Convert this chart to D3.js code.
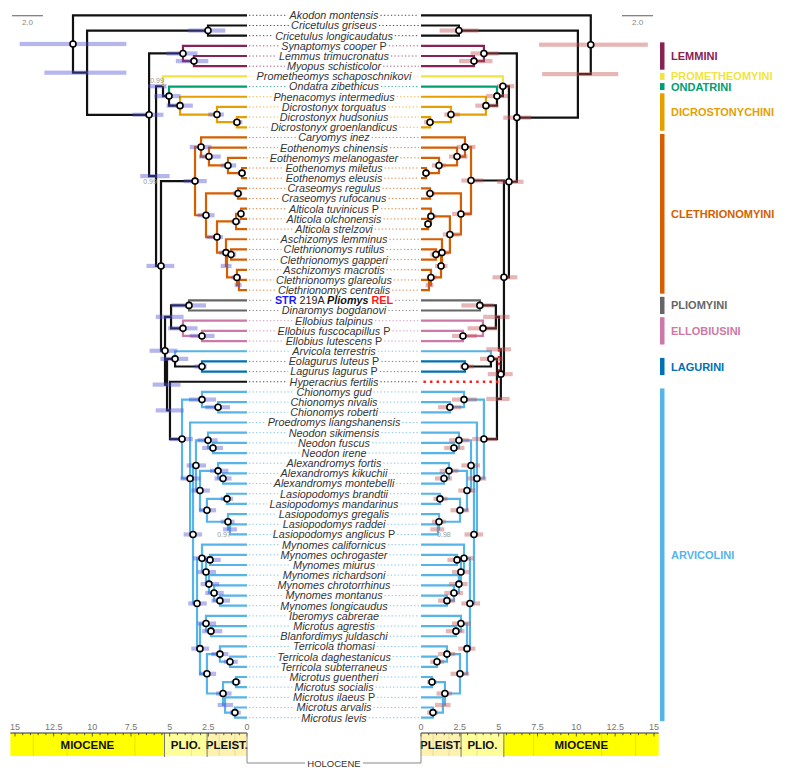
<!DOCTYPE html>
<html><head><meta charset="utf-8">
<script src="https://cdn.jsdelivr.net/npm/d3@7"></script>
<style>body{margin:0;background:#fff}svg{display:block}</style></head>
<body><svg id="c" width="800" height="776"></svg>
<script>
// ---------------- DATA ----------------
const taxa = ["Akodon montensis","Cricetulus griseus","Cricetulus longicaudatus","Synaptomys cooper P","Lemmus trimucronatus","Myopus schisticolor","Prometheomys schaposchnikovi","Ondatra zibethicus","Phenacomys intermedius","Dicrostonyx torquatus","Dicrostonyx hudsonius","Dicrostonyx groenlandicus","Caryomys inez","Eothenomys chinensis","Eothenomys melanogaster","Eothenomys miletus","Eothenomys eleusis","Craseomys regulus","Craseomys rufocanus","Alticola tuvinicus P","Alticola olchonensis","Alticola strelzovi","Aschizomys lemminus","Clethrionomys rutilus","Clethrionomys gapperi","Aschizomys macrotis","Clethrionomys glareolus","Clethrionomys centralis","STR 219A Pliomys REL","Dinaromys bogdanovi","Ellobius talpinus","Ellobius fuscocapillus P","Ellobius lutescens P","Arvicola terrestris","Eolagurus luteus P","Lagurus lagurus P","Hyperacrius fertilis","Chionomys gud","Chionomys nivalis","Chionomys roberti","Proedromys liangshanensis","Neodon sikimensis","Neodon fuscus","Neodon irene","Alexandromys fortis","Alexandromys kikuchii","Alexandromys montebelli","Lasiopodomys brandtii","Lasiopodomys mandarinus","Lasiopodomys gregalis","Lasiopodomys raddei","Lasiopodomys anglicus P","Mynomes californicus","Mynomes ochrogaster","Mynomes miurus","Mynomes richardsoni","Mynomes chrotorrhinus","Mynomes montanus","Mynomes longicaudus","Iberomys cabrerae","Microtus agrestis","Blanfordimys juldaschi","Terricola thomasi","Terricola daghestanicus","Terricola subterraneus","Microtus guentheri","Microtus socialis","Microtus ilaeus P","Microtus arvalis","Microtus levis"];

const tipGroup = ["out","out","out","lem","lem","lem","pro","ond","dic","dic","dic","dic",
 "cle","cle","cle","cle","cle","cle","cle","cle","cle","cle","cle","cle","cle","cle","cle","cle",
 "pli","pli","ell","ell","ell","arv","lag","lag","out",
 "arv","arv","arv","arv","arv","arv","arv","arv","arv","arv","arv","arv","arv","arv","arv","arv","arv",
 "arv","arv","arv","arv","arv","arv","arv","arv","arv","arv","arv","arv","arv","arv","arv","arv"];

// tribe bars: [label, group, first taxon, last taxon]
const tribeBars = [["LEMMINI","lem",3,5],["PROMETHEOMYINI","pro",6,6],["ONDATRINI","ond",7,7],
 ["DICROSTONYCHINI","dic",8,11],["CLETHRIONOMYINI","cle",12,27],["PLIOMYINI","pli",28,29],
 ["ELLOBIUSINI","ell",30,32],["LAGURINI","lag",34,35],["ARVICOLINI","arv",37,69]];

// node rows: [id, upper child, lower child, age (Ma), HPD low, HPD high, posterior (1 = circle, 0 = none)]
const leftTree = [
["root",0,"N1",11.25,7.8,14.7,1],["N1","Cric","A",10.34,7.8,13.1,0],["Cric",1,2,2.52,1.4,3.8,1],
["A","Lem","B",6.33,5.4,7.4,1],["Lem",3,"Lem2",4.14,3.2,5.2,1],["Lem2",4,5,3.43,2.5,4.6,1],
["B","G","C",5.88,5.0,6.9,0.99],["G",6,"O",5.43,5.2,6.4,0.99],["O",7,"Dic",5.04,4.3,6.0,1],
["Dic",8,"Dx",4.33,3.5,5.2,1],["Dx",9,"Dh",1.94,1.5,2.5,1],["Dh",10,11,0.65,0.3,0.9,1],
["C","CL","Dd",5.56,4.7,6.5,1],["CL","E1","CL2",3.36,2.6,4.1,1],["E1",12,"E2",2.97,2.3,3.7,1],
["E2",13,"E3",2.46,1.7,3.1,1],["E3",14,"E4",1.23,0.7,1.7,1],["E4",15,16,0.32,0.1,0.6,1],
["CL2","Cras","CL3",2.65,2.1,3.2,1],["Cras",17,18,0.58,0.3,0.9,1],["CL3","Alt","CL4",1.94,1.55,2.6,1],
["Alt","Alt2",21,0.71,0.4,1.0,1],["Alt2",19,20,0.39,0.2,0.6,1],["CL4",22,"R1p",1.36,1.0,1.8,1],
["R1p","R1","M1",1.29,1.0,1.7,0],["R1",23,24,1.03,0.7,1.4,1],["M1",25,"M2",0.65,0.4,1.0,1],
["M2",26,27,0.52,0.35,0.8,0],
["Dd","PE","K",5.30,4.5,6.3,1],["PE","P1","El1",4.91,4.1,5.9,0],["P1",28,29,3.75,2.65,4.9,1],
["El1",30,"El2",4.14,3.2,5.1,1],["El2",31,32,2.91,2.1,3.7,1],["K","AL","H",5.17,4.3,6.1,0],
["AL",33,"Lg",4.65,3.8,5.6,1],["Lg",34,35,2.91,2.6,3.4,1],["H",36,"AR",4.98,4.1,5.9,0],
["AR","Chio1","Z",4.20,3.5,5.0,1],["Chio1",37,"Chio2",2.91,2.0,3.75,1],["Chio2",38,39,1.87,1.1,2.7,1],
["Z",40,"W",3.68,3.0,4.3,1],["W","NA","V",3.49,2.9,4.1,1],["NA","Neo1","AL1",3.30,2.65,3.9,1],
["Neo1",41,"Neo2",2.52,1.9,3.2,1],["Neo2",42,43,2.20,1.55,2.9,1],["AL1","Alx1","Las1",3.04,2.4,3.6,1],
["Alx1",44,"Alx2",1.87,1.2,2.4,1],["Alx2",45,46,1.55,1.0,2.1,1],["Las1","Las_a","Las_b",2.59,2.0,3.1,1],
["Las_a",47,48,1.29,0.9,1.7,1],["Las_b",49,"Las_c",1.23,0.8,1.7,1],["Las_c",50,51,1.10,0.65,1.55,0.97],
["V","My1","U",3.23,2.6,3.8,1],["My1",52,"My2",2.91,2.2,3.5,1],["My2","My_om","My3",2.65,2.0,3.2,1],
["My_om",53,54,2.39,1.7,3.0,1],["My3",55,"My4",2.46,1.8,3.0,1],["My4",56,"My5",2.13,1.5,2.7,1],
["My5",57,58,1.75,1.1,2.3,1],["U","Ib","T0",3.04,2.45,3.6,1],["Ib",59,"Ib2",2.65,2.0,3.2,1],
["Ib2",60,61,2.33,1.6,2.9,1],["T0","Ter","Mic",2.59,2.0,3.1,1],["Ter",62,"Ter2",1.75,1.2,2.3,1],
["Ter2",63,64,1.10,0.6,1.5,1],["Mic","Mic1","Mic2",1.55,1.0,2.0,1],["Mic1",65,66,0.71,0.4,1.0,1],
["Mic2",67,"Mic3",1.42,0.9,1.9,0],["Mic3",68,69,0.78,0.4,1.1,1]];

const rightTree = [
["root",0,"N1",10.93,7.6,14.6,1],["N1","Cric","A",10.10,7.8,12.7,0],["Cric",1,2,2.44,1.2,3.7,1],
["A","Lem","B",6.17,5.3,7.1,1],["Lem",3,"Lem2",4.05,3.2,5.0,1],["Lem2",4,5,3.41,2.45,4.6,1],
["B","G","C",5.66,4.9,6.6,1],["G",6,"O",5.27,4.9,6.0,1],["O",7,"Dic",4.89,4.2,5.6,1],
["Dic",8,"Dx",4.18,3.5,5.0,1],["Dx",9,"Dh",1.93,1.5,2.5,1],["Dh",10,11,0.58,0.2,0.8,1],
["C","CL","Y",5.34,4.6,6.2,1],["CL","E1","CL2",3.22,2.6,4.0,1],["E1",12,"E2",2.83,2.3,3.5,1],
["E2",13,"E3",2.32,1.8,3.0,1],["E3",14,"E4",1.16,0.7,1.6,1],["E4",15,16,0.32,0.1,0.6,1],
["CL2","Cras","CL3",2.57,2.0,3.2,1],["Cras",17,18,0.58,0.3,0.9,1],["CL3","Alt","CL4",1.86,1.4,2.5,1],
["Alt",19,"Alt2",0.64,0.4,1.0,1],["Alt2",20,21,0.45,0.2,0.7,1],["CL4",22,"R1p",1.35,1.0,1.8,1],
["R1p","R1","M1",1.29,0.9,1.7,1],["R1",23,24,0.96,0.6,1.3,1],["M1",25,"M2",0.64,0.4,1.0,1],
["M2",26,27,0.51,0.3,0.8,0],
["Y","X","Q",5.14,4.3,5.9,1],["X","PE",36,5.02,4.2,5.8,0],["PE","P1","El1",4.82,4.0,5.7,0],
["P1",28,29,3.79,2.6,4.7,1],["El1",30,"El2",3.99,3.0,4.9,1],["El2",31,32,2.70,2.0,3.6,1],
["Q","AL","AR",4.89,4.2,5.7,0],["AL",33,"Lg",4.50,3.8,5.3,1],["Lg",34,35,2.83,2.5,3.4,1],
["AR","Chio1","Z",4.05,3.3,4.9,1],["Chio1",37,"Chio2",2.77,2.0,3.6,1],["Chio2",38,39,1.86,1.1,2.6,1],
["Z",40,"W",3.60,3.0,4.2,1],["W","NA","V",3.41,2.8,4.0,1],["NA","Neo1","AL1",3.22,2.6,3.8,1],
["Neo1",41,"Neo2",2.44,1.8,3.1,1],["Neo2",42,43,2.12,1.5,2.8,1],["AL1","Alx1","Las1",2.96,2.4,3.5,1],
["Alx1",44,"Alx2",1.80,1.2,2.4,1],["Alx2",45,46,1.48,0.9,2.0,1],["Las1","Las_a","Las_b",2.51,1.9,3.1,1],
["Las_a",47,48,1.22,0.8,1.7,1],["Las_b",49,"Las_c",1.16,0.7,1.6,1],["Las_c",50,51,1.09,0.6,1.5,0.98],
["V","My1","U",3.15,2.6,3.8,1],["My1",52,"My2",2.77,2.2,3.4,1],["My2","My_om","My3",2.57,2.0,3.1,1],
["My_om",53,54,2.32,1.7,2.9,1],["My3",55,"My4",2.44,1.8,3.0,1],["My4",56,"My5",2.12,1.5,2.7,1],
["My5",57,58,1.67,1.1,2.2,1],["U","Ib","T0",2.96,2.4,3.5,1],["Ib",59,"Ib2",2.57,2.0,3.2,1],
["Ib2",60,61,2.25,1.6,2.8,1],["T0","Ter","Mic",2.51,1.9,3.1,1],["Ter",62,"Ter2",1.67,1.1,2.2,1],
["Ter2",63,64,1.03,0.6,1.5,1],["Mic","Mic1","Mic2",1.54,1.0,2.0,1],["Mic1",65,66,0.71,0.4,1.0,1],
["Mic2",67,"Mic3",1.41,0.9,1.9,0],["Mic3",68,69,0.77,0.4,1.1,1]];

const axisTicks = [15,12.5,10,7.5,5,2.5,0];
const epochs = [["MIOCENE",15.3,5.333],["PLIO.",5.333,2.58],["PLEIST.",2.58,0.0117]];
const stageBounds = [13.82,11.63,7.246,3.6,1.8,0.781];
const scaleBarMa = 2.0;

// ---------------- STYLE ----------------
const groupColor = {out:"#111111",lem:"#882255",pro:"#F0E442",ond:"#009E73",dic:"#E69F00",
  cle:"#D55E00",pli:"#666666",ell:"#CC79A7",lag:"#0072B2",arv:"#56B4E9"};
const epochFill = {"MIOCENE":"#FFFF00","PLIO.":"#FFFF99","PLEIST.":"#FFF2AE"};
const FONT = "'Liberation Sans', Arial, Helvetica, sans-serif";

const svg = d3.select("#c").style("font-family", FONT);
const yS = d3.scaleLinear().domain([0, taxa.length - 1]).range([15.3, 717.7]);
const xL = d3.scaleLinear().domain([0, 15]).range([247, 15]);
const xR = d3.scaleLinear().domain([0, 15]).range([421, 654]);
const midX = (xL(0) + xR(0)) / 2;

function drawTree(rows, x, side) {
  const nodes = new Map(rows.map(r => [r[0], {id:r[0], kids:[r[1], r[2]], age:r[3], lo:r[4], hi:r[5], pp:r[6]}]));
  const Y = c => {
    if (typeof c === "number") return yS(c);
    const n = nodes.get(c);
    if (n.y == null) n.y = (Y(n.kids[0]) + Y(n.kids[1])) / 2;
    return n.y;
  };
  const grp = c => {
    if (typeof c === "number") return tipGroup[c];
    const n = nodes.get(c);
    if (n.g === undefined) { const a = grp(n.kids[0]), b = grp(n.kids[1]); n.g = (a && a === b) ? a : null; }
    return n.g;
  };
  const ageOf = c => typeof c === "number" ? 0 : nodes.get(c).age;
  const edges = [];
  nodes.forEach(n => n.kids.forEach(c => {
    let col = "#111";
    if (typeof c === "number") col = groupColor[tipGroup[c]];
    else if (grp(c) && grp(c) === grp(n.id)) col = groupColor[grp(c)];
    const dotted = side === "R" && c === 36;
    edges.push({d:`M${x(n.age)},${Y(n.id)}V${Y(c)}H${x(ageOf(c))}`, col: dotted ? "#ff1a1a" : col, dotted});
  }));
  const g = svg.append("g");
  g.selectAll("path.e").data(edges.filter(e => !e.dotted)).join("path")
    .attr("d", e => e.d).attr("fill", "none").attr("stroke", e => e.col).attr("stroke-width", 2.2);
  g.selectAll("path.dt").data(edges.filter(e => e.dotted)).join("path")
    .attr("d", e => e.d).attr("fill", "none").attr("stroke", e => e.col).attr("stroke-width", 2.4)
    .attr("stroke-dasharray", "2.4,4.2");
  const list = [...nodes.values()];
  g.selectAll("rect.hpd").data(list).join("rect")
    .attr("x", n => Math.min(x(n.lo), x(n.hi))).attr("width", n => Math.abs(x(n.hi) - x(n.lo)))
    .attr("y", n => Y(n.id) - 2.1).attr("height", 4.2)
    .attr("fill", side === "L" ? "rgb(80,80,215)" : "rgb(195,80,80)").attr("fill-opacity", 0.42);
  g.selectAll("circle").data(list.filter(n => n.pp === 1)).join("circle")
    .attr("cx", n => x(n.age)).attr("cy", n => Y(n.id)).attr("r", 3)
    .attr("fill", "#fff").attr("stroke", "#000").attr("stroke-width", 1.6);
  const dir = side === "L" ? -1 : 1;
  g.selectAll("text.pp").data(list.filter(n => n.pp > 0 && n.pp < 1)).join("text")
    .attr("x", n => x(n.age) + dir * 6).attr("y", n => Y(n.id) + (n.id === "G" ? -3.5 : 8))
    .attr("text-anchor", "middle").attr("font-size", 7).attr("fill", "#999").text(n => n.pp.toFixed(2));
}
drawTree(leftTree, xL, "L");
drawTree(rightTree, xR, "R");

// ---------------- taxon names + leader dots ----------------
const nameG = svg.append("g");
taxa.forEach((name, i) => {
  const y = yS(i);
  const t = nameG.append("text").attr("x", midX).attr("y", y + 3.9).attr("text-anchor", "middle")
    .attr("font-size", 10.8).attr("fill", "#333");
  if (i === 28) {
    const p = name.split(" ");
    t.append("tspan").attr("font-weight", "bold").attr("fill", "#1a1aff").text(p[0]);
    t.append("tspan").attr("fill", "#222").text(" " + p[1] + " ");
    t.append("tspan").attr("font-weight", "bold").attr("font-style", "italic").attr("fill", "#111").text(p[2]);
    t.append("tspan").attr("font-weight", "bold").attr("fill", "#ff1a1a").text(" " + p[3]);
  } else if (name.endsWith(" P")) {
    t.append("tspan").attr("font-style", "italic").text(name.slice(0, -2));
    t.append("tspan").text(" P");
  } else {
    t.attr("font-style", "italic").text(name);
  }
  const w = t.node().getComputedTextLength();
  const col = groupColor[tipGroup[i]];
  nameG.append("line").attr("x1", xL(0) + 2).attr("x2", midX - w / 2 - 2).attr("y1", y).attr("y2", y)
    .attr("stroke", col).attr("stroke-width", 1).attr("stroke-dasharray", "1.3,2.2").attr("opacity", 0.75);
  nameG.append("line").attr("x1", midX + w / 2 + 2).attr("x2", xR(0) - 2).attr("y1", y).attr("y2", y)
    .attr("stroke", col).attr("stroke-width", 1).attr("stroke-dasharray", "1.3,2.2").attr("opacity", 0.75);
});

// ---------------- tribe bars ----------------
const tb = svg.append("g");
tribeBars.forEach(([lab, g, a, b]) => {
  const y0 = yS(a) - 3.5, y1 = yS(b) + 3.5;
  tb.append("rect").attr("x", 660).attr("y", y0).attr("width", 4.5).attr("height", y1 - y0).attr("fill", groupColor[g]);
  tb.append("text").attr("x", 671).attr("y", (y0 + y1) / 2 + 4).attr("font-size", 11).attr("font-weight", "bold")
    .attr("fill", groupColor[g]).text(lab);
});

// ---------------- scale bars (2.0 Ma) ----------------
[[xL, 12], [xR, 622]].forEach(([sc, x0]) => {
  const len = Math.abs(sc(scaleBarMa) - sc(0));
  svg.append("line").attr("x1", x0).attr("x2", x0 + len).attr("y1", 15.7).attr("y2", 15.7).attr("stroke", "#777").attr("stroke-width", 1.2);
  svg.append("text").attr("x", x0 + len / 2).attr("y", 24.5).attr("text-anchor", "middle").attr("font-size", 8).attr("fill", "#888").text(scaleBarMa.toFixed(1));
});

// ---------------- time axes ----------------
const axTop = 733, axBot = 756;
[xL, xR].forEach(sc => {
  const g = svg.append("g");
  epochs.forEach(([lab, a, b]) => {
    const x0 = Math.min(sc(a), sc(b)), x1 = Math.max(sc(a), sc(b));
    g.append("rect").attr("x", x0).attr("y", axTop).attr("width", x1 - x0).attr("height", axBot - axTop).attr("fill", epochFill[lab]);
    g.append("text").attr("x", (x0 + x1) / 2).attr("y", axTop + 15.5).attr("text-anchor", "middle")
      .attr("font-size", 11.5).attr("font-weight", "bold").attr("fill", "#111").text(lab);
  });
  stageBounds.forEach(s => g.append("line").attr("x1", sc(s)).attr("x2", sc(s)).attr("y1", axTop).attr("y2", axBot)
    .attr("stroke", "#000").attr("stroke-opacity", 0.1));
  [5.333, 2.58].forEach(s => g.append("line").attr("x1", sc(s)).attr("x2", sc(s)).attr("y1", axTop).attr("y2", axBot + 1)
    .attr("stroke", "#777").attr("stroke-width", 1));
  g.append("line").attr("x1", sc(15.3)).attr("x2", sc(0)).attr("y1", axTop).attr("y2", axTop).attr("stroke", "#333").attr("stroke-width", 1);
  d3.range(0, 15.01, 0.5).forEach(t => g.append("line").attr("x1", sc(t)).attr("x2", sc(t)).attr("y1", axTop)
    .attr("y2", axTop + (t % 2.5 === 0 ? 3.5 : 2.2)).attr("stroke", "#333").attr("stroke-width", 0.8));
  axisTicks.forEach(t => g.append("text").attr("x", sc(t)).attr("y", axTop - 3).attr("text-anchor", "middle")
    .attr("font-size", 9).attr("fill", "#777").text(t));
});
// Holocene bracket
svg.append("path").attr("d", `M${xL(0)},${axTop}V763H${xR(0)}V${axTop}`).attr("fill", "none").attr("stroke", "#888").attr("stroke-width", 1);
svg.append("rect").attr("x", midX - 29).attr("y", 758).attr("width", 58).attr("height", 11).attr("fill", "#fff");
svg.append("text").attr("x", midX).attr("y", 767).attr("text-anchor", "middle").attr("font-size", 9.5)
  .attr("fill", "#333").text("HOLOCENE");
</script></body></html>
